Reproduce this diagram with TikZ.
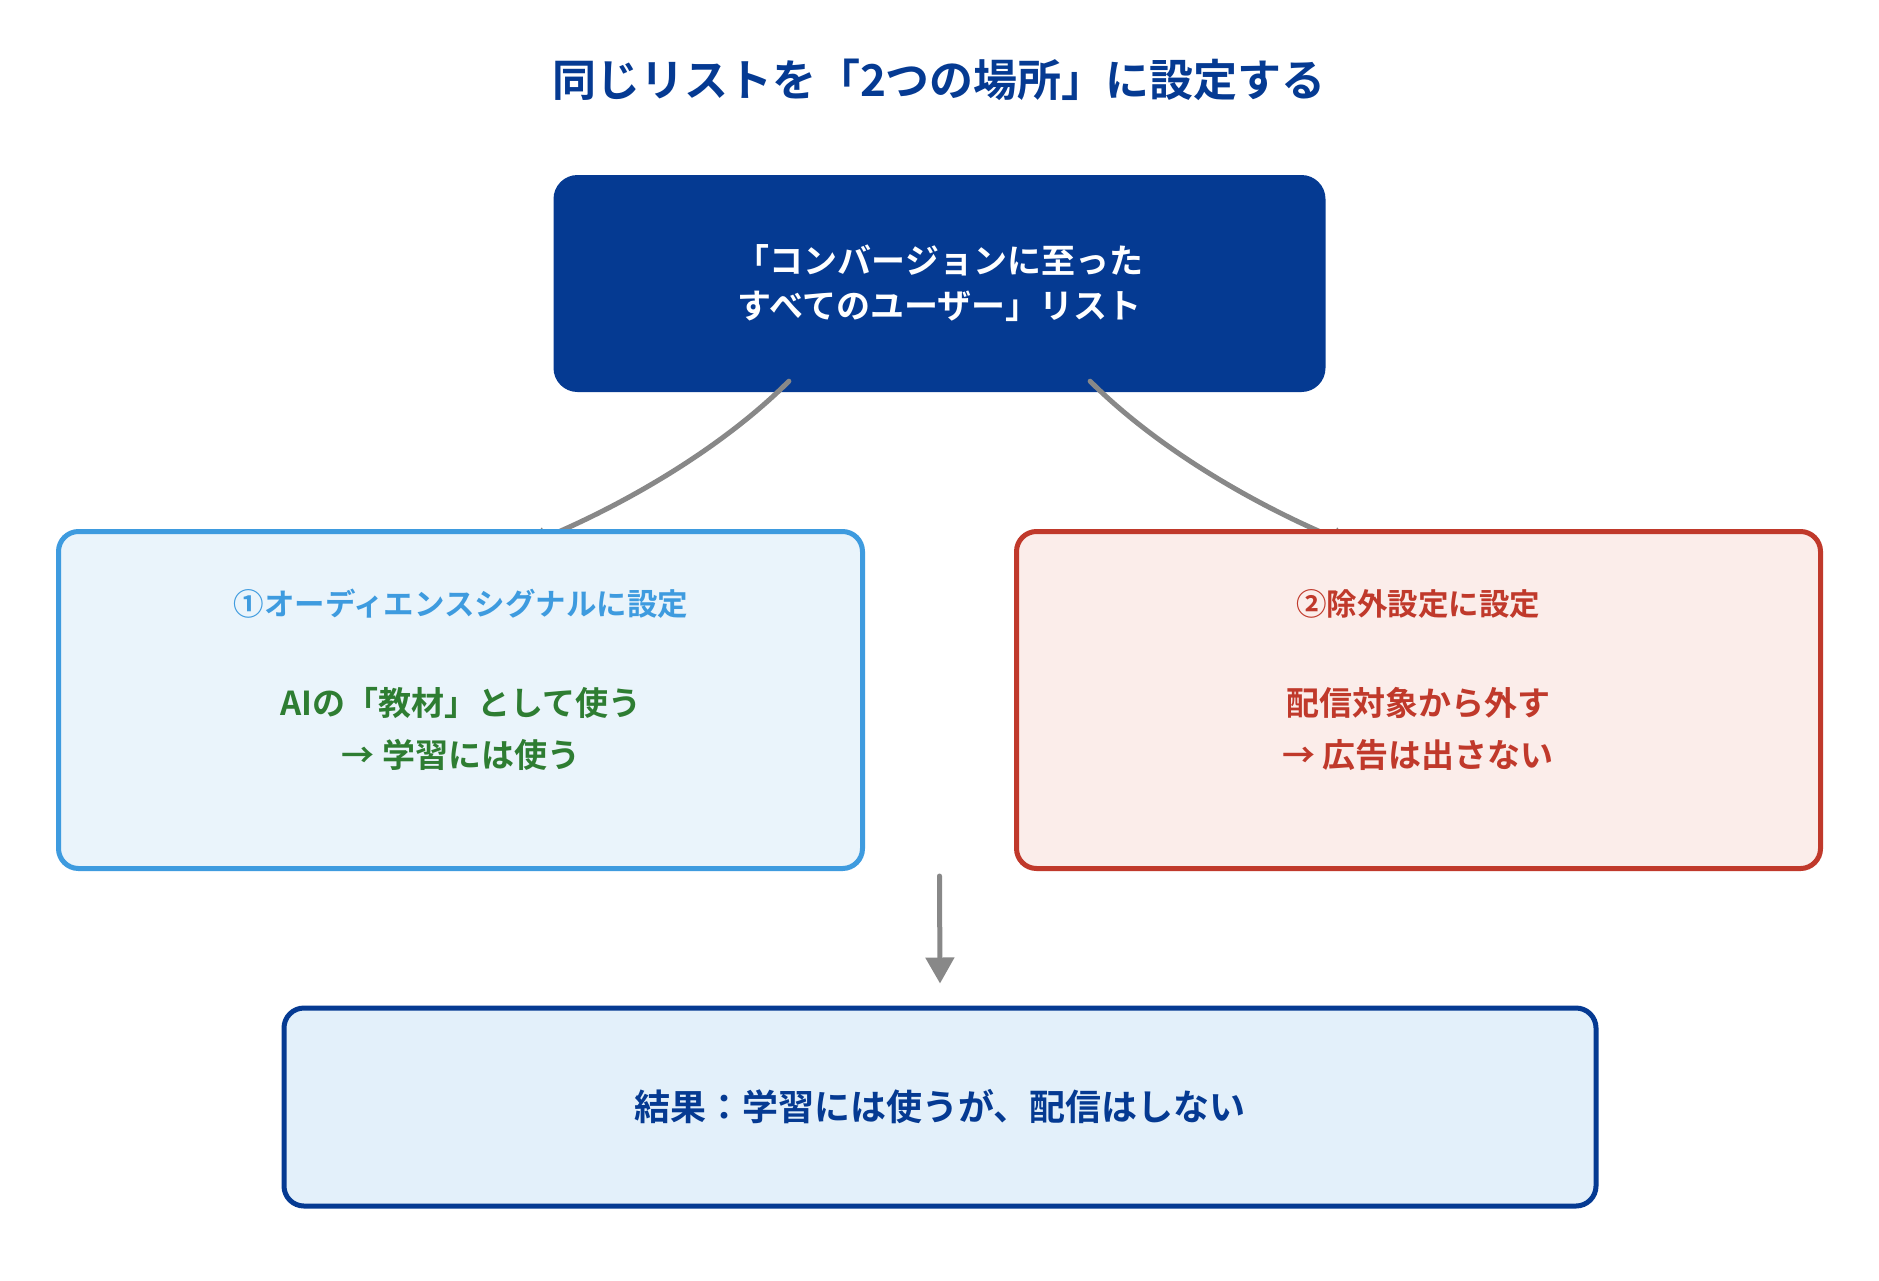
\documentclass[tikz,border=0pt]{standalone}
\usepackage{fontspec}
\setmainfont{Noto Sans CJK JP}[BoldFont={* Bold}]
\usetikzlibrary{arrows.meta,calc}
\definecolor{navy}{HTML}{053A92}
\definecolor{skyline}{HTML}{3E9BDF}
\definecolor{skyfill}{HTML}{EAF4FB}
\definecolor{brick}{HTML}{C0392B}
\definecolor{brickfill}{HTML}{FBEDEA}
\definecolor{leaf}{HTML}{2E7D32}
\definecolor{paleblue}{HTML}{E3F0FA}
\definecolor{flowgray}{HTML}{888888}
\pgfdeclarelayer{bg}
\pgfdeclarelayer{mid}
\pgfsetlayers{bg,mid,main}

\begin{document}
\begin{tikzpicture}[
        x=1pt, y=-1pt,
        font=\bfseries,
        panel/.style={draw, line width=5pt, rounded corners=20pt, minimum width=804pt, minimum height=337pt, inner sep=0pt},
        flow/.style={flowgray, line width=5pt, line cap=round, -{Triangle[width=20pt,length=20pt]}},
        head/.style={font=\bfseries\fontsize{30.5}{36}\selectfont},
        body/.style={align=center, font=\bfseries\fontsize{33}{52}\selectfont}
      ]
      \useasboundingbox (0,0) rectangle (1879,1280);
      \node[text=navy, font=\bfseries\fontsize{44}{53}\selectfont] (title) at (939,80) {同じリストを「2つの場所」に設定する};
      \begin{pgfonlayer}{bg}
        \node[fill=navy, rounded corners=24pt, minimum width=772pt, minimum height=217pt, text=white,
          align=center, font=\bfseries\fontsize{34}{45}\selectfont] (list) at (939.5,283.5)
          {「コンバージョンに至った\\すべてのユーザー」リスト};
      \end{pgfonlayer}
      % the two places
      \node[panel, draw=skyline, fill=skyfill] (signal) at (460.5,700) {};
      \node[panel, draw=brick, fill=brickfill] (exclude) at (1418.5,700) {};
      \node[head, text=skyline] (signal head) at (461,604) {①オーディエンスシグナルに設定};
      \node[body, text=leaf] (signal body) at (461,729) {AIの「教材」として使う\\→ 学習には使う};
      \node[head, text=brick] (exclude head) at (1418,604) {②除外設定に設定};
      \node[body, text=brick] (exclude body) at (1418,729) {配信対象から外す\\→ 広告は出さない};
      \node[draw=navy, fill=paleblue, line width=5pt, rounded corners=20pt, minimum width=1312pt, minimum height=198pt,
        text=navy, font=\bfseries\fontsize{36}{43}\selectfont] (result) at (940,1107) {結果：学習には使うが、配信はしない};
      \begin{pgfonlayer}{mid}
        \coordinate (list out l) at ($(list.south west)!0.305!(list.south east)+(0,-11)$);
        \coordinate (list out r) at ($(list.south west)!0.695!(list.south east)+(0,-11)$);
        \coordinate (signal in) at ($(signal.north west)!0.583!(signal.north east)+(0,16)$);
        \coordinate (exclude in) at ($(exclude.north west)!0.417!(exclude.north east)+(0,16)$);
        \draw[flow] (list out l) .. controls +(-66,66) and +(100,-42) .. (signal in);
        \draw[flow] (list out r) .. controls +(66,66) and +(-100,-42) .. (exclude in);
      \end{pgfonlayer}
      \draw[flow, -{Triangle[width=28pt,length=26pt]}]
        ([yshift=-5pt]signal.south -| list.south) -- ([yshift=22pt]result.north);
    \end{tikzpicture}
\end{document}
